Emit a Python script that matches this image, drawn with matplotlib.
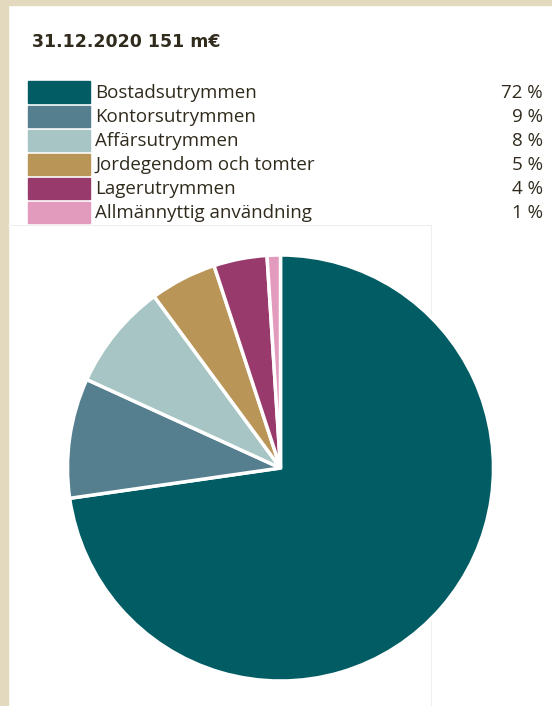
import matplotlib.pyplot as plt
from matplotlib.patches import Rectangle
from matplotlib.lines import Line2D

# Data
title = "31.12.2020 151 m€"
categories = ["Bostadsutrymmen", "Kontorsutrymmen", "Affärsutrymmen",
              "Jordegendom och tomter", "Lagerutrymmen", "Allmännyttig användning"]
shares = [72, 9, 8, 5, 4, 1]
colors = ["#025c64", "#557f8f", "#a6c5c4", "#b99657", "#983b6c", "#e39bbd"]

W, H = 552, 706
fig = plt.figure(figsize=(W / 100, H / 100), dpi=100)
fig.patch.set_facecolor("white")

def fx(x):
    return x / W

def fy(y):
    return 1 - y / H

# beige frame (left and top)
fig.patches.append(Rectangle((0, 0), fx(8), 1, transform=fig.transFigure,
                             color="#e3d9bf", zorder=-2))
fig.patches.append(Rectangle((0, fy(5)), 1, 5 / H, transform=fig.transFigure,
                             color="#e3d9bf", zorder=-2))

# faint panel outline behind the pie
fig.lines.append(Line2D([fx(8), fx(431)], [fy(225), fy(225)], transform=fig.transFigure,
                        color="#efefef", lw=0.8, zorder=-1))
fig.lines.append(Line2D([fx(431), fx(431)], [fy(225), 0], transform=fig.transFigure,
                        color="#efefef", lw=0.8, zorder=-1))

txt = "#302b1d"
fig.text(fx(32), fy(42), title, fontsize=12.5, fontweight="bold", color=txt,
         va="center", ha="left", family="DejaVu Sans")

# legend
for i, (cat, val, col) in enumerate(zip(categories, shares, colors)):
    yc = 92 + i * 24.1
    fig.patches.append(Rectangle((fx(28), fy(yc + 10.5)), 62 / W, 21 / H,
                                 transform=fig.transFigure, color=col))
    fig.text(fx(95), fy(yc + 1), cat, fontsize=13.5, color=txt, va="center", ha="left",
             family="Open Sans")
    fig.text(fx(543), fy(yc + 1), f"{val} %", fontsize=13.5, color=txt, va="center",
             ha="right", family="Open Sans")

# pie
R = 213
half = 220
cx, cy = 280.5, 468
ax = fig.add_axes([fx(cx - half), (H - cy - half) / H, 2 * half / W, 2 * half / H])
ax.pie(shares, colors=colors, startangle=90, counterclock=False,
       wedgeprops=dict(edgecolor="white", linewidth=2.5))
lim = half / R
ax.set_xlim(-lim, lim)
ax.set_ylim(-lim, lim)
ax.set_aspect("equal")
ax.axis("off")

fig.savefig("out.png", dpi=100)
